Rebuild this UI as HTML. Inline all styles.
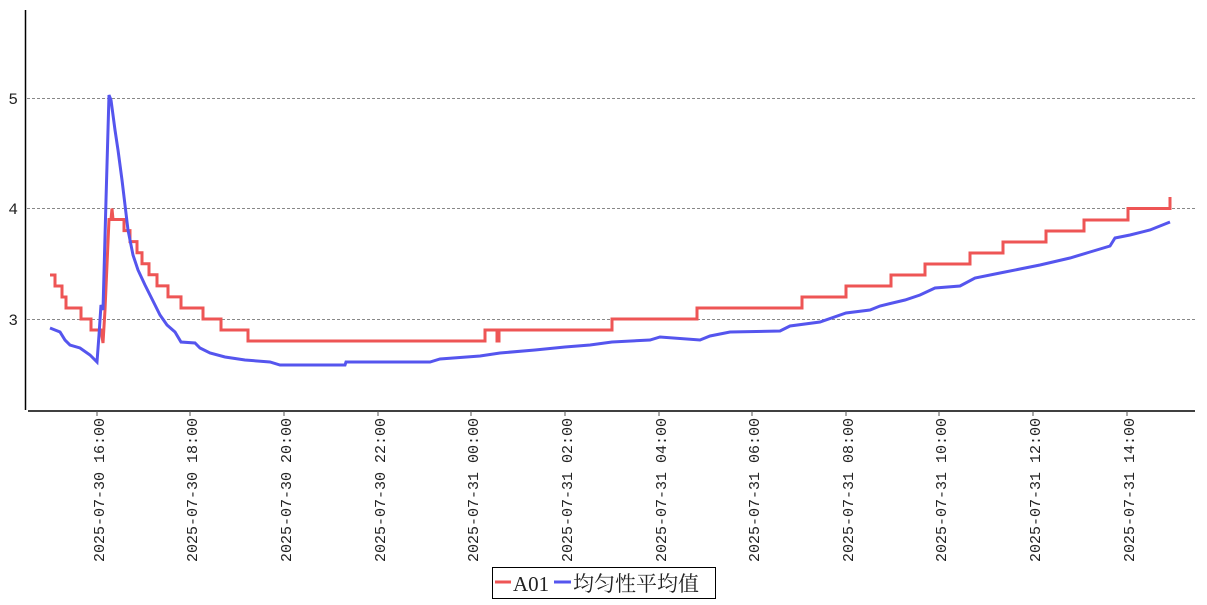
<!DOCTYPE html>
<html><head><meta charset="utf-8"><style>
body{margin:0;background:#fff;width:1207px;height:600px;overflow:hidden}
svg text{font-family:"Liberation Mono","Noto Sans CJK SC",monospace;fill:#222}
</style></head><body>
<svg width="1207" height="600" viewBox="0 0 1207 600">
<g stroke="#888" stroke-dasharray="3,2" stroke-width="1">
<line x1="27" y1="98.5" x2="1195" y2="98.5"/>
<line x1="27" y1="208.5" x2="1195" y2="208.5"/>
<line x1="27" y1="319.5" x2="1195" y2="319.5"/>
</g>
<line x1="25.5" y1="10" x2="25.5" y2="410" stroke="#000" stroke-width="1.5"/>
<line x1="28" y1="411" x2="1195" y2="411" stroke="#000" stroke-width="1.5"/>
<g font-size="16" text-anchor="end" style="font-family:'Liberation Serif',serif">
<text x="18" y="104">5</text><text x="18" y="214">4</text><text x="18" y="325">3</text>
</g>
<g stroke="#555" stroke-width="1">
<line x1="97" y1="411" x2="97" y2="416"/><line x1="190" y1="411" x2="190" y2="416"/><line x1="284" y1="411" x2="284" y2="416"/><line x1="378" y1="411" x2="378" y2="416"/><line x1="471" y1="411" x2="471" y2="416"/><line x1="565" y1="411" x2="565" y2="416"/><line x1="659" y1="411" x2="659" y2="416"/><line x1="752" y1="411" x2="752" y2="416"/><line x1="846" y1="411" x2="846" y2="416"/><line x1="939" y1="411" x2="939" y2="416"/><line x1="1033" y1="411" x2="1033" y2="416"/><line x1="1127" y1="411" x2="1127" y2="416"/>
</g>
<g font-size="15" text-anchor="end">
<text transform="translate(104,418) rotate(-90)">2025-07-30 16:00</text>
<text transform="translate(197,418) rotate(-90)">2025-07-30 18:00</text>
<text transform="translate(291,418) rotate(-90)">2025-07-30 20:00</text>
<text transform="translate(385,418) rotate(-90)">2025-07-30 22:00</text>
<text transform="translate(478,418) rotate(-90)">2025-07-31 00:00</text>
<text transform="translate(572,418) rotate(-90)">2025-07-31 02:00</text>
<text transform="translate(666,418) rotate(-90)">2025-07-31 04:00</text>
<text transform="translate(759,418) rotate(-90)">2025-07-31 06:00</text>
<text transform="translate(853,418) rotate(-90)">2025-07-31 08:00</text>
<text transform="translate(946,418) rotate(-90)">2025-07-31 10:00</text>
<text transform="translate(1040,418) rotate(-90)">2025-07-31 12:00</text>
<text transform="translate(1134,418) rotate(-90)">2025-07-31 14:00</text>
</g>
<polyline fill="none" stroke="#ee5555" stroke-width="3" points="50,275 55,275 55,286 62,286 62,297 66,297 66,308 81,308 81,319 91,319 91,330 101,330 103,343 105,310 109,219.5 111,219.5 112,208.5 113,219.5 124,219.5 124,230.6 130,230.6 130,241.6 137,241.6 137,252.7 142,252.7 142,263.8 149,263.8 149,274.8 157,274.8 157,285.9 168,285.9 168,296.9 181,296.9 181,308 203,308 203,319 221,319 221,330 248,330 248,341 485,341 485,330 497,330 497,341 499,341 499,330 612,330 612,319 697,319 697,308 802,308 802,297 846,297 846,286 891,286 891,275 925,275 925,264 970,264 970,253 1003,253 1003,242 1046,242 1046,231 1084,231 1084,220 1128,220 1128,208.5 1170,208.5 1170,197"/>
<polyline fill="none" stroke="#5555ee" stroke-width="3" points="50,328 55,330 60,332 65,340 70,345 80,348 90,355 97,362 99,335 101,305 103,310 106,200 109,95 111,100 115,130 118,150 122,180 125,205 128,230 133,255 138,270 145,285 150,295 155,305 160,315 167,325 175,332 181,342 195,343 200,348 210,353 225,357 245,360 270,362 280,365 345,365 346,362 430,362 440,359 480,356 500,353 535,350 565,347 590,345 612,342 650,340 660,337 700,340 710,336 720,334 730,332 780,331 790,326 820,322 846,313 870,310 880,306 905,300 920,295 935,288 960,286 975,278 1000,273 1020,269 1040,265 1070,258 1090,252 1110,246 1115,238 1130,235 1150,230 1170,222"/>
<rect x="492.5" y="567.5" width="223" height="31" fill="#fff" stroke="#000" stroke-width="1"/>
<line x1="495" y1="582" x2="511" y2="582" stroke="#ee5555" stroke-width="3"/>
<text x="513" y="591" font-size="21" style="font-family:'Liberation Serif','Noto Serif CJK SC',serif">A01</text>
<line x1="554" y1="582" x2="571" y2="582" stroke="#5555ee" stroke-width="3"/>
<text x="573" y="591" font-size="21" style="font-family:'Liberation Serif','Noto Serif CJK SC',serif">均匀性平均值</text>
</svg>
</body></html>
